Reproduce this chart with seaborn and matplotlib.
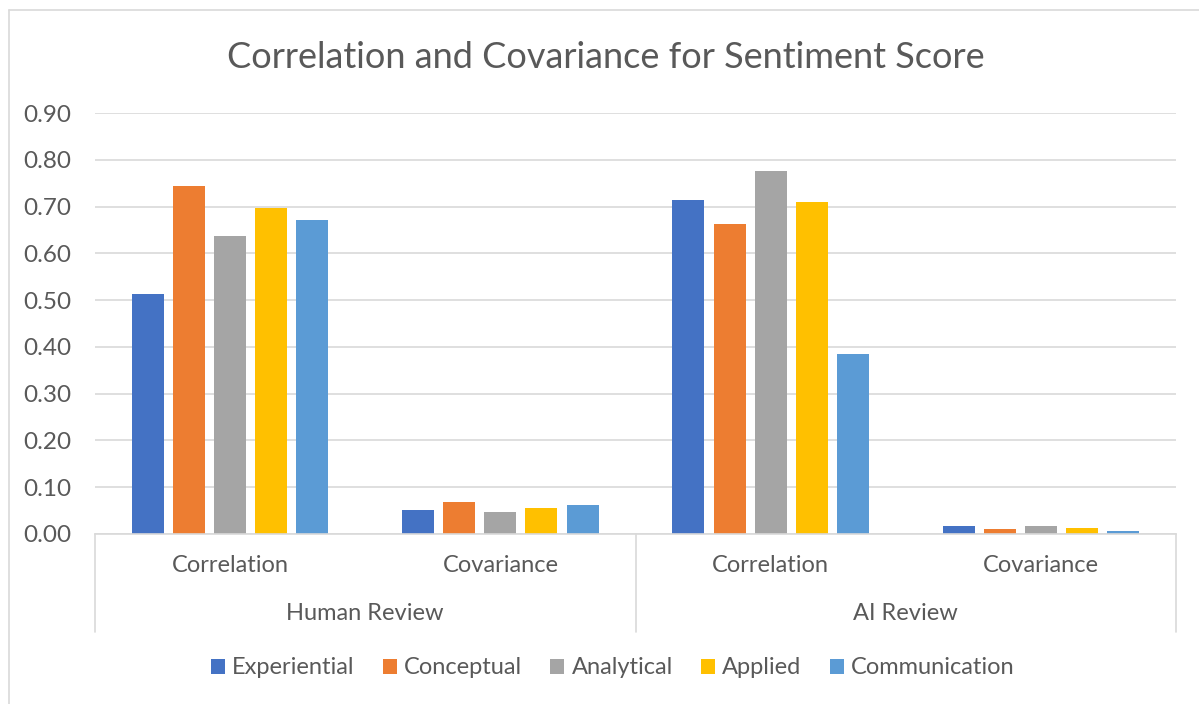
import pandas as pd
import matplotlib.pyplot as plt
import seaborn as sns
from matplotlib.lines import Line2D
from matplotlib.patches import Patch

# values
reviews = ["Human Review", "Human Review", "AI Review", "AI Review"]
measures = ["Correlation", "Covariance", "Correlation", "Covariance"]
series = ["Experiential", "Conceptual", "Analytical", "Applied", "Communication"]

experiential = [0.512, 0.052, 0.715, 0.017]
conceptual = [0.744, 0.068, 0.663, 0.011]
analytical = [0.638, 0.048, 0.777, 0.018]
applied = [0.697, 0.056, 0.710, 0.013]
communication = [0.672, 0.063, 0.384, 0.006]

colors = ["#4472C4", "#ED7D31", "#A5A5A5", "#FFC000", "#5B9BD5"]
text_color = "#595959"
line_color = "#D9D9D9"

groups = [f"{r}|{m}" for r, m in zip(reviews, measures)]
rows = []
for name, vals in zip(series, [experiential, conceptual, analytical, applied, communication]):
    for g, v in zip(groups, vals):
        rows.append({"group": g, "series": name, "value": v})
df = pd.DataFrame(rows)

sns.set_style("white")
plt.rcParams['font.family'] = ['Lato', 'DejaVu Sans']

W, H = 1199, 704
fig = plt.figure(figsize=(W / 100, H / 100), dpi=100)
left, right, top, bottom = 95, 1176, 113, 534
ax = fig.add_axes([left / W, 1 - bottom / H, (right - left) / W, (bottom - top) / H])

sns.barplot(data=df, x="group", y="value", hue="series", order=groups, hue_order=series,
            palette=colors, width=0.76, gap=0.22, linewidth=0, saturation=1, ax=ax,
            legend=False)

ax.set_xlim(-0.5, 3.5)
ax.set_ylim(0, 0.9)
ax.set_yticks([i / 10 for i in range(10)])
ax.set_yticklabels([f"{i / 10:.2f}" for i in range(10)], fontsize=17.5, color=text_color)
ax.tick_params(axis="y", length=0, pad=17)
ax.set_xticks([])
ax.set_xlabel("")
ax.set_ylabel("")
ax.grid(axis="y", color=line_color, linewidth=1.2)
ax.set_axisbelow(True)
for s in ["left", "right", "top"]:
    ax.spines[s].set_visible(False)
ax.spines["bottom"].set_color(line_color)
ax.spines["bottom"].set_linewidth(1.2)

# multi-level category axis
ah = bottom - top
trans = ax.get_xaxis_transform()
for i, m in enumerate(measures):
    ax.text(i, -(566 - bottom) / ah, m, transform=trans, ha="center", va="center",
            fontsize=17, color=text_color)
for x0, r in [(0.5, "Human Review"), (2.5, "AI Review")]:
    ax.text(x0, -(614 - bottom) / ah, r, transform=trans, ha="center", va="center",
            fontsize=17, color=text_color)
for x0 in [-0.5, 1.5, 3.5]:
    ax.add_line(Line2D([x0, x0], [0, -(632 - bottom) / ah], transform=trans,
                       color=line_color, linewidth=1.2, clip_on=False))

fig.text(0.505, 1 - 57 / H, "Correlation and Covariance for Sentiment Score",
         ha="center", va="center", fontsize=26, color=text_color)

handles = [Patch(facecolor=c, edgecolor="none", label=s) for c, s in zip(colors, series)]
leg = fig.legend(handles=handles, loc="center", bbox_to_anchor=(0.511, 1 - 668 / H), ncol=5,
                 frameon=False, fontsize=17, handlelength=0.6, handleheight=0.6,
                 handletextpad=0.3, columnspacing=1.2)
for t in leg.get_texts():
    t.set_color(text_color)

# chart area border (left and top only are visible in the crop)
fig.add_artist(Line2D([9 / W, 9 / W], [0, 1 - 10 / H], transform=fig.transFigure,
                      color=line_color, linewidth=1.2))
fig.add_artist(Line2D([9 / W, 1], [1 - 10 / H, 1 - 10 / H], transform=fig.transFigure,
                      color=line_color, linewidth=1.2))

fig.savefig("out.png", dpi=100)
